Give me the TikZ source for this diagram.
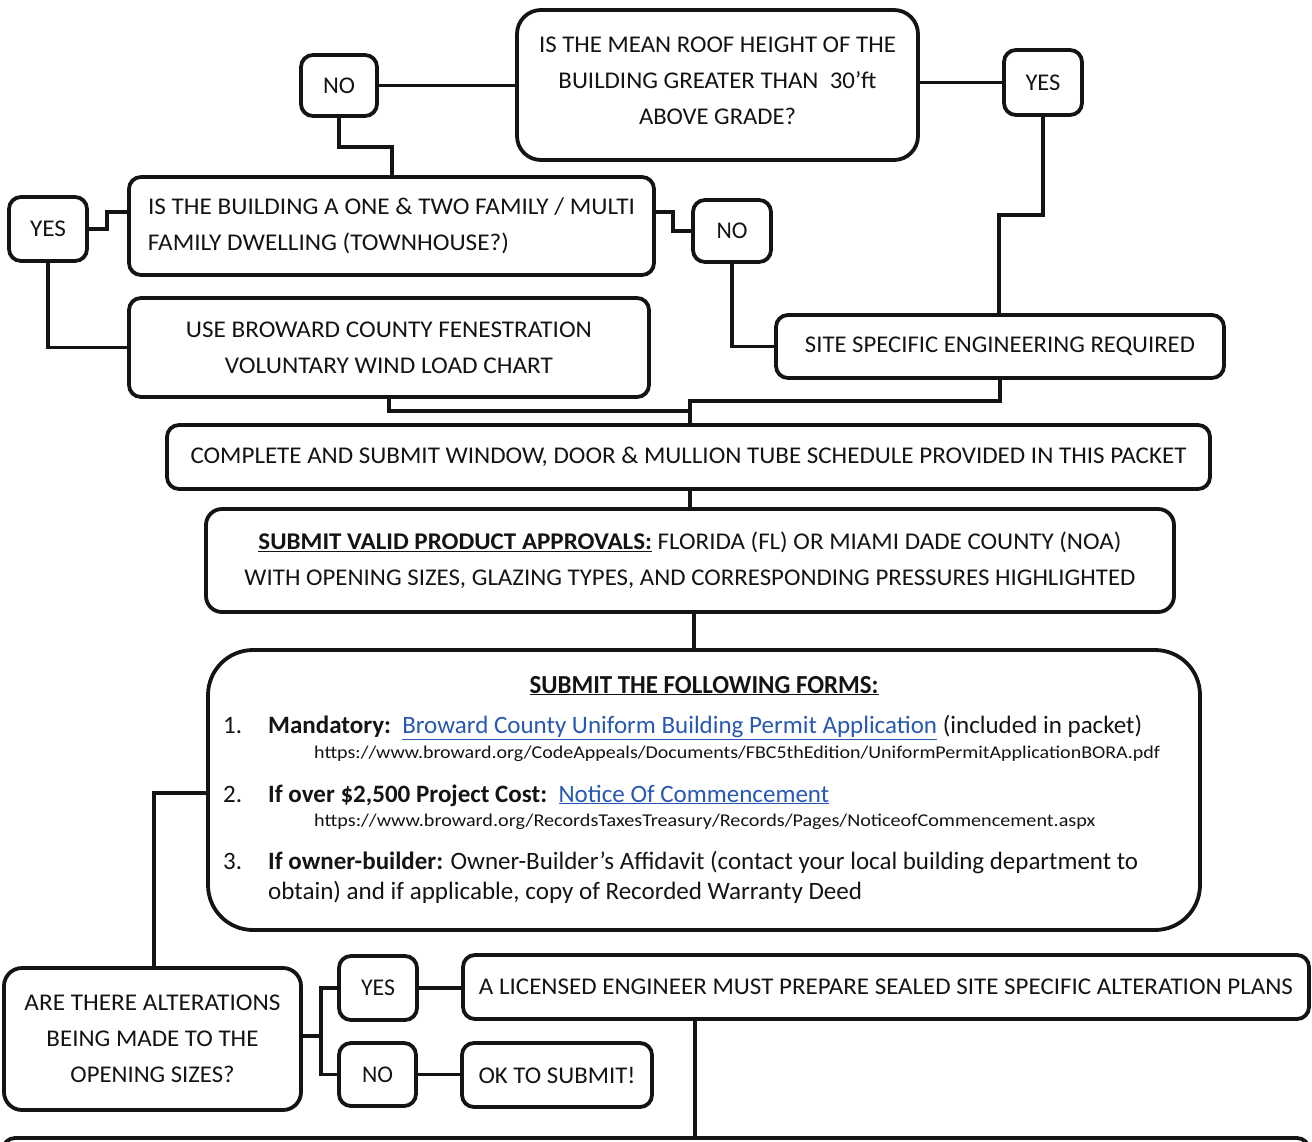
\documentclass[tikz,border=0pt]{standalone}
\usepackage{fontspec}
\setmainfont{Carlito}
\usepackage{graphicx}
\definecolor{ink}{RGB}{20,20,20}
\definecolor{linkblue}{RGB}{40,88,176}
\newcommand{\fw}[2]{\resizebox{#1pt}{\height}{#2}}
\newcommand{\lnk}[1]{\textcolor{linkblue}{\underline{#1}}}
\tikzset{
  box/.style={draw=ink, line width=3.8pt, rounded corners=12pt, align=center, inner sep=0pt,
    font=\fontsize{24}{36}\selectfont, text=ink, fill=white},
  conn/.style={draw=ink, line width=3.4pt},
  txt/.style={inner sep=0pt, text=ink, font=\fontsize{25}{30}\selectfont},
  url/.style={inner sep=0pt, text=ink, font=\fontsize{18}{22}\selectfont},
}
\begin{document}
\begin{tikzpicture}[x=1pt,y=-1pt]
\useasboundingbox (0,0) rectangle (1312,1141);
\clip (0,0) rectangle (1312,1141);
\fill[white] (0,0) rectangle (1312,1141);

% ---------- boxes ----------
\node[box, rounded corners=24pt, minimum width=401pt, minimum height=150pt, text depth=8pt] (q1) at (717.5,85)
  {\fw{357}{IS THE MEAN ROOF HEIGHT OF THE}\\\fw{318}{BUILDING GREATER THAN\ \ 30’ft}\\\fw{157}{ABOVE GRADE?}};
\node[box, minimum width=76pt, minimum height=61pt] (no1) at (339,85.5) {\fw{32}{NO}};
\node[box, minimum width=78pt, minimum height=65pt] (yes1) at (1043,82.5) {\fw{35}{YES}};
\node[box, align=left, minimum width=525pt, minimum height=98pt] (q2) at (391.5,226)
  {\fw{487}{IS THE BUILDING A ONE \& TWO FAMILY / MULTI}\\\fw{361}{FAMILY DWELLING (TOWNHOUSE?)}};
\node[box, minimum width=78pt, minimum height=64pt] (yes2) at (48,229) {\fw{36}{YES}};
\node[box, minimum width=78pt, minimum height=62pt] (no2) at (732,231) {\fw{31}{NO}};
\node[box, minimum width=520pt, minimum height=99pt] (fen) at (389,347.5)
  {\fw{406}{USE BROWARD COUNTY FENESTRATION}\\\fw{328}{VOLUNTARY WIND LOAD CHART}};
\node[box, minimum width=448pt, minimum height=63pt] (site) at (1000,346.5)
  {\fw{390}{SITE SPECIFIC ENGINEERING REQUIRED}};
\node[box, minimum width=1043pt, minimum height=64pt] (sched) at (688.5,457)
  {\fw{996}{COMPLETE AND SUBMIT WINDOW, DOOR \& MULLION TUBE SCHEDULE PROVIDED IN THIS PACKET}};
\node[box, rounded corners=16pt, minimum width=968pt, minimum height=103pt] (appr) at (690,560.5)
  {\fw{863}{\textbf{\underline{SUBMIT VALID PRODUCT APPROVALS:}} FLORIDA (FL) OR MIAMI DADE COUNTY (NOA)}\\
   \fw{891}{WITH OPENING SIZES, GLAZING TYPES, AND CORRESPONDING PRESSURES HIGHLIGHTED}};
\node[box, rounded corners=45pt, minimum width=992pt, minimum height=280pt] (forms) at (704,790) {};
\node[box, rounded corners=18pt, minimum width=297pt, minimum height=142pt] (q4) at (152.5,1039)
  {\fw{256}{ARE THERE ALTERATIONS}\\\fw{212}{BEING MADE TO THE}\\\fw{164}{OPENING SIZES?}};
\node[box, minimum width=78pt, minimum height=64pt] (yes3) at (378,988) {\fw{34}{YES}};
\node[box, minimum width=77pt, minimum height=63pt] (no3) at (377.5,1074.5) {\fw{31}{NO}};
\node[box, minimum width=846pt, minimum height=64pt] (eng) at (886,987)
  {\fw{814}{A LICENSED ENGINEER MUST PREPARE SEALED SITE SPECIFIC ALTERATION PLANS}};
\node[box, minimum width=190pt, minimum height=64pt] (ok) at (557,1075) {\fw{157}{OK TO SUBMIT!}};
\node[box, minimum width=1306pt, minimum height=100pt] (next) at (656,1188) {};

% ---------- forms text ----------
\node[txt, anchor=base, font=\fontsize{26}{30}\selectfont\bfseries] (ftitle) at (704,693)
  {\fw{349}{\underline{SUBMIT THE FOLLOWING FORMS:}}};
\node[txt, anchor=base west] (n1) at (223,733) {1.};
\node[txt, anchor=base west] (l1) at (268,733)
  {\fw{874}{\textbf{Mandatory:}\ \ \lnk{Broward County Uniform Building Permit Application} (included in packet)}};
\node[url, anchor=base west] (u1) at (314,758)
  {\fw{846}{https://www.broward.org/CodeAppeals/Documents/FBC5thEdition/UniformPermitApplicationBORA.pdf}};
\node[txt, anchor=base west] (n2) at (223,802) {2.};
\node[txt, anchor=base west] (l2) at (268,802)
  {\fw{561}{\textbf{If over \$2,500 Project Cost:}\ \ \lnk{Notice Of Commencement}}};
\node[url, anchor=base west] (u2) at (314,826)
  {\fw{781}{https://www.broward.org/RecordsTaxesTreasury/Records/Pages/NoticeofCommencement.aspx}};
\node[txt, anchor=base west] (n3) at (223,869) {3.};
\node[txt, anchor=base west] (l3) at (268,869)
  {\fw{870}{\textbf{If owner-builder:} Owner-Builder’s Affidavit (contact your local building department to}};
\node[txt, anchor=base west] (l4) at (268,899)
  {\fw{594}{obtain) and if applicable, copy of Recorded Warranty Deed}};

% ---------- connectors ----------
\coordinate (k1) at (392,147);
\coordinate (k2) at (999,215);
\coordinate (k3) at (107,212);
\coordinate (k4) at (673,212);
\coordinate (k5) at (690,401);
\coordinate (k6) at (690,411);
\coordinate (k7) at (694,630);
\coordinate (k8) at (154,793);
\coordinate (k9) at (321,1036);
\coordinate (k10) at (695,1080);

\draw[conn] (no1.east) -- (no1.east -| q1.west);
\draw[conn] (yes1.west -| q1.east) -- (yes1.west);
\draw[conn] (no1.south) |- (k1) -- (k1 |- q2.north);
\draw[conn] (yes1.south) |- (k2) -- (k2 |- site.north);
\draw[conn] (yes2.east) -| (k3) -- (k3 -| q2.west);
\draw[conn] (yes2.south) |- (fen.west);
\draw[conn] (k4 -| q2.east) -- (k4) |- (no2.west);
\draw[conn] (no2.south) |- (site.west);
\draw[conn] (fen.south) |- (k6);
\draw[conn] (site.south) |- (k5) -- (k5 |- sched.north);
\draw[conn] (k5 |- sched.south) -- (k5 |- appr.north);
\draw[conn] (k7 |- appr.south) -- (k7 |- forms.north);
\draw[conn] (k8 -| forms.west) -- (k8) -- (k8 |- q4.north);
\draw[conn] (k9 -| q4.east) -- (k9);
\draw[conn] (yes3.west) -| (k9) |- (no3.west);
\draw[conn] (yes3.east) -- (yes3.east -| eng.west);
\draw[conn] (no3.east) -- (no3.east -| ok.west);
\draw[conn] (k10 |- eng.south) -- (k10 |- next.north);
\end{tikzpicture}
\end{document}
